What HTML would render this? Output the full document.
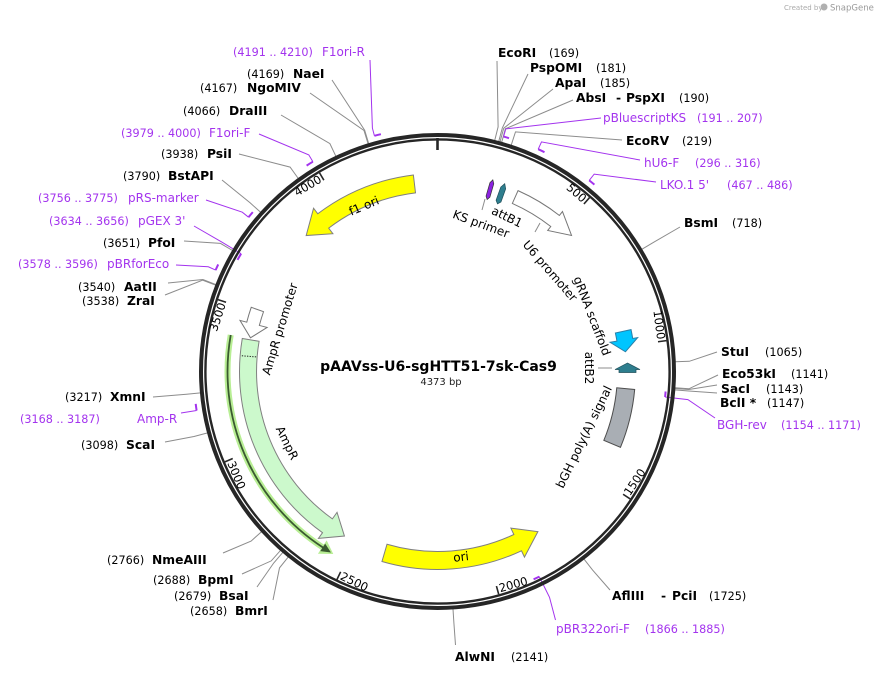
<!DOCTYPE html>
<html><head><meta charset="utf-8">
<style>
html,body{margin:0;padding:0;background:#fff;}
svg{display:block;font-family:"DejaVu Sans","Liberation Sans",sans-serif;}
.n{font-weight:bold;font-size:12.3px;fill:#000}
.p{font-size:11.2px;fill:#000}
.pn{font-size:12px;fill:#a333ee}
.pp{font-size:11.2px;fill:#a333ee}
.cl{fill:none;stroke:#8c8c8c;stroke-width:1}
.pl{fill:none;stroke:#a333ee;stroke-width:1}
.pa{fill:none;stroke:#a333ee;stroke-width:2}
.fl{font-size:12px;fill:#000}
.tk{font-size:11.5px;fill:#000}
</style></head><body>
<svg width="881" height="674" viewBox="0 0 881 674" xmlns="http://www.w3.org/2000/svg">
<rect width="881" height="674" fill="#fff"/>

<!-- header -->
<text x="784" y="10" font-size="7" fill="#aaa">Created by</text>
<circle cx="824" cy="7" r="3.5" fill="#b0b0b0"/>
<text x="830" y="10.5" font-size="8.5" fill="#999">SnapGene</text>

<!-- enzyme connector lines -->
<polyline class="cl" points="497,61 498.1,126.9 494.7,140.5"/>
<polyline class="cl" points="528,74 502.3,128 498.7,141.5"/>
<polyline class="cl" points="553,89 503.7,128.3 500,141.9"/>
<polyline class="cl" points="573,100 505.4,128.8 501.7,142.3"/>
<polyline class="cl" points="622,140 515.5,131.9 511.2,145.2"/>
<polyline class="cl" points="680,227 653.8,242.2 641.8,249.3"/>
<polyline class="cl" points="717,352 689.3,361.3 675.3,361.8"/>
<polyline class="cl" points="718,375 688.9,388.8 674.9,387.8"/>
<polyline class="cl" points="717,385 688.8,389.5 674.9,388.5"/>
<polyline class="cl" points="717,393 688.7,391 674.8,389.9"/>
<polyline class="cl" points="610,590 592.6,570.1 584,559.1"/>
<polyline class="cl" points="455.5,645 453.9,623 453,609"/>
<polyline class="cl" points="273,600 279.5,567.9 288.3,556.9"/>
<polyline class="cl" points="257,587 273.7,563 282.8,552.4"/>
<polyline class="cl" points="242,574 271.2,560.9 280.5,550.4"/>
<polyline class="cl" points="223,553 251.1,541.1 261.5,531.7"/>
<polyline class="cl" points="165,442 194,436.5 207.6,432.9"/>
<polyline class="cl" points="153,397 186.5,394.2 200.5,392.9"/>
<polyline class="cl" points="165,295 202.6,280.1 215.7,285.2"/>
<polyline class="cl" points="168,283 202.9,279.5 215.9,284.6"/>
<polyline class="cl" points="184,241 220.5,243.4 232.5,250.5"/>
<polyline class="cl" points="222,180 250.2,202.9 260.6,212.3"/>
<polyline class="cl" points="239,154 290.1,167.1 298.3,178.5"/>
<polyline class="cl" points="281,115 329.9,143.6 335.9,156.3"/>
<polyline class="cl" points="310,93 364,130.5 368.1,143.9"/>
<polyline class="cl" points="332,80 364.7,130.3 368.7,143.7"/>

<!-- primer connectors and marks -->
<polyline class="pl" points="370,60 372.4,128.1 374.4,135.8"/>
<path class="pa" d="M374.4,135.8 A244,244 0 0 1 380.9,134.2"/>
<polyline class="pl" points="259,134 308.8,154.9 312.9,161.7"/>
<path class="pa" d="M312.9,161.7 A244,244 0 0 0 306.6,165.6"/>
<polyline class="pl" points="206,200 242.3,212.2 248.5,217.2"/>
<path class="pa" d="M248.5,217.2 A244,244 0 0 1 252.8,212.1"/>
<polyline class="pl" points="194,226 221.4,241.8 241.1,253.7"/>
<path class="pa" d="M241.1,253.7 A229,229 0 0 0 237.5,259.9"/>
<polyline class="pl" points="176,265 208.3,266.8 215.6,270.1"/>
<path class="pa" d="M215.6,270.1 A244,244 0 0 1 218.2,264.4"/>
<polyline class="pl" points="181,413 188.8,411.8 196.6,410.5"/>
<path class="pa" d="M196.6,410.5 A244,244 0 0 1 195.7,403.9"/>
<polyline class="pl" points="555.5,620 549.5,597.3 539.3,576.6"/>
<path class="pa" d="M539.3,576.6 A229,229 0 0 1 533.6,579.3"/>
<polyline class="pl" points="715,418 687.9,399.6 665.1,397"/>
<path class="pa" d="M665.1,397 A229,229 0 0 0 665.6,391.5"/>
<polyline class="pl" points="601,118 505.8,128.9 503.6,136.6"/>
<path class="pa" d="M503.6,136.6 A244,244 0 0 1 509,138.2"/>
<polyline class="pl" points="640,160 541.5,141.9 538.2,149.2"/>
<path class="pa" d="M538.2,149.2 A244,244 0 0 1 544.5,152.2"/>
<polyline class="pl" points="656,182 594.2,174.1 589.2,180.4"/>
<path class="pa" d="M589.2,180.4 A244,244 0 0 1 594.4,184.6"/>

<!-- backbone ring -->
<circle cx="437.5" cy="371.5" r="236.5" fill="none" stroke="#262626" stroke-width="4"/>
<circle cx="437.5" cy="371.5" r="232.1" fill="none" stroke="#262626" stroke-width="2.4"/>

<!-- ticks -->
<g transform="translate(437.5 371.5)" stroke="#262626">
  <line x1="0" y1="-233.5" x2="0" y2="-221.5" stroke-width="2.6"/>
  <g transform="rotate(41.16)"><line x1="0" y1="-231" x2="0" y2="-222.5" stroke-width="1.6"/><text class="tk" stroke="none" x="-2" y="-222" text-anchor="end">500</text></g>
  <g transform="rotate(82.32)"><line x1="0" y1="-231" x2="0" y2="-222.5" stroke-width="1.6"/><text class="tk" stroke="none" x="-2" y="-222" text-anchor="end">1000</text></g>
  <g transform="rotate(288.13)"><line x1="0" y1="-231" x2="0" y2="-222.5" stroke-width="1.6"/><text class="tk" stroke="none" x="-2" y="-222" text-anchor="end">3500</text></g>
  <g transform="rotate(329.29)"><line x1="0" y1="-231" x2="0" y2="-222.5" stroke-width="1.6"/><text class="tk" stroke="none" x="-2" y="-222" text-anchor="end">4000</text></g>
  <g transform="rotate(123.48)"><line x1="0" y1="-231" x2="0" y2="-222.5" stroke-width="1.6"/><text class="tk" stroke="none" transform="translate(0 -229.5) rotate(180)" x="2" y="0" text-anchor="start">1500</text></g>
  <g transform="rotate(164.64)"><line x1="0" y1="-231" x2="0" y2="-222.5" stroke-width="1.6"/><text class="tk" stroke="none" transform="translate(0 -229.5) rotate(180)" x="2" y="0" text-anchor="start">2000</text></g>
  <g transform="rotate(205.8)"><line x1="0" y1="-231" x2="0" y2="-222.5" stroke-width="1.6"/><text class="tk" stroke="none" transform="translate(0 -229.5) rotate(180)" x="2" y="0" text-anchor="start">2500</text></g>
  <g transform="rotate(246.97)"><line x1="0" y1="-231" x2="0" y2="-222.5" stroke-width="1.6"/><text class="tk" stroke="none" transform="translate(0 -229.5) rotate(180)" x="2" y="0" text-anchor="start">3000</text></g>
</g>

<!-- features -->
<g transform="translate(437.5 371.5) rotate(322.8)"><path d="M0,-198 A198,198 0 0 1 99.6,-171.1 L90.5,-155.6 A180,180 0 0 0 0,-180 L0,-173 L-22.4,-187.7 L0,-205 Z" fill="#ffff00" stroke="#7f7f7f" stroke-width="1"/></g>
<g transform="translate(437.5 371.5) rotate(154.9)"><path d="M0,-198 A198,198 0 0 1 130.9,-148.5 L119,-135 A180,180 0 0 0 0,-180 L0,-173 L-23,-187.6 L0,-205 Z" fill="#ffff00" stroke="#7f7f7f" stroke-width="1"/></g>
<g transform="translate(437.5 371.5) rotate(215.5)"><path d="M0,-198 A198,198 0 0 1 178.1,-86.5 L162.8,-79 A181,181 0 0 0 0,-181 L0,-173 L-19.8,-188 L0,-205 Z" fill="#ccf9cc" stroke="#808080" stroke-width="1"/></g>
<g transform="translate(437.5 371.5) rotate(274.6)"><line x1="0" y1="-182" x2="0" y2="-197" stroke="#222" stroke-width="1" stroke-dasharray="1.3,1.3"/></g>
<!-- AmpR ORF line -->
<g transform="translate(437.5 371.5) rotate(213)">
  <path d="M193.3,-82 A210,210 0 0 0 0,-210" fill="none" stroke="#b8ee94" stroke-width="6"/>
  <polygon points="1,-202 1,-218 -12,-209.8" fill="#b8ee94"/>
  <path d="M193.3,-82 A210,210 0 0 0 0,-210" fill="none" stroke="#3a5a30" stroke-width="1.8"/>
  <polygon points="0.5,-205.5 0.5,-214.5 -9.2,-209.8" fill="#3a5a30"/>
</g>
<g transform="translate(437.5 371.5) rotate(284.5)"><path d="M0,-197 A197,197 0 0 1 15.5,-196.4 L14.4,-183.4 A184,184 0 0 0 0,-184 L0,-176 L-14.2,-189.5 L0,-204 Z" fill="#fff" stroke="#777" stroke-width="1"/></g>
<g transform="translate(437.5 371.5) rotate(38)"><path d="M0,-198 A198,198 0 0 0 -47.9,-192.1 L-44.5,-178.5 A184,184 0 0 1 0,-184 L0,-179 L21.9,-189.7 L0,-203 Z" fill="#fff" stroke="#777" stroke-width="1"/></g>
<g transform="translate(437.5 371.5) rotate(80.4)"><path d="M0,-198 A198,198 0 0 0 -9,-197.8 L-8.3,-181.8 A182,182 0 0 1 0,-182 L0,-175 L11.9,-188.6 L0,-203 Z" fill="#00c5ff" stroke="#2a7fa8" stroke-width="1"/></g>
<g transform="translate(437.5 371.5) rotate(95.2)"><path d="M0,-198 A198,198 0 0 1 58.9,-189.1 L53.5,-171.9 A180,180 0 0 0 0,-180 Z" fill="#a9aeb4" stroke="#4d4d4d" stroke-width="1"/></g>
<g transform="translate(437.5 371.5) rotate(16.1)"><polygon points="-2,-182 -2,-196 0,-199.5 2,-196 2,-182 0,-179" fill="#8b22e0" stroke="#333" stroke-width="0.7"/></g>
<g transform="translate(437.5 371.5) rotate(19.7)"><polygon points="-2.6,-181 -2.6,-195 0,-199.5 2.6,-195 2.6,-181 0,-178" fill="#2e7e8e" stroke="#1f4f5a" stroke-width="0.7"/></g>
<polygon points="615,369.5 627.5,363 640,369.5 636,369.5 636,372.5 619,372.5 619,369.5" fill="#2e7e8e" stroke="#1f4f5a" stroke-width="0.7"/>

<!-- feature label connector lines -->
<line x1="540" y1="223" x2="535" y2="232" class="cl"/>
<line x1="485" y1="199" x2="482" y2="210" class="cl"/>
<line x1="598" y1="368" x2="612" y2="368" class="cl"/>

<!-- feature labels -->
<text class="fl" transform="translate(364 206) rotate(-23)" text-anchor="middle" dominant-baseline="central">f1 ori</text>
<text class="fl" transform="translate(461 557) rotate(-7)" text-anchor="middle" dominant-baseline="central">ori</text>
<text class="fl" transform="translate(287 443) rotate(64)" text-anchor="middle" dominant-baseline="central">AmpR</text>
<text class="fl" transform="translate(280 329) rotate(-73)" text-anchor="middle" dominant-baseline="central">AmpR promoter</text>
<text class="fl" transform="translate(550 271) rotate(49)" text-anchor="middle" dominant-baseline="central">U6 promoter</text>
<text class="fl" transform="translate(592 316) rotate(69)" text-anchor="middle" dominant-baseline="central">gRNA scaffold</text>
<text class="fl" transform="translate(589 368) rotate(90)" text-anchor="middle" dominant-baseline="central">attB2</text>
<text class="fl" transform="translate(584 437) rotate(-64)" text-anchor="middle" dominant-baseline="central">bGH poly(A) signal</text>
<text class="fl" transform="translate(481 224) rotate(20)" text-anchor="middle" dominant-baseline="central">KS primer</text>
<text class="fl" transform="translate(507 217) rotate(26)" text-anchor="middle" dominant-baseline="central">attB1</text>

<!-- title -->
<text x="438.5" y="371" text-anchor="middle" font-weight="bold" font-size="14" fill="#000">pAAVss-U6-sgHTT51-7sk-Cas9</text>
<text x="441" y="385" text-anchor="middle" font-size="10" fill="#222">4373 bp</text>

<!-- labels top right -->
<text class="n" x="498" y="57">EcoRI</text><text class="p" x="549" y="57">(169)</text>
<text class="n" x="530" y="72">PspOMI</text><text class="p" x="596" y="72">(181)</text>
<text class="n" x="555" y="87">ApaI</text><text class="p" x="600" y="87">(185)</text>
<text class="n" x="576" y="102">AbsI</text><text class="n" x="616" y="102">-</text><text class="n" x="626" y="102">PspXI</text><text class="p" x="679" y="102">(190)</text>
<text class="pn" x="603" y="122">pBluescriptKS</text><text class="pp" x="697" y="122">(191 .. 207)</text>
<text class="n" x="626" y="145">EcoRV</text><text class="p" x="682" y="145">(219)</text>
<text class="pn" x="644" y="167">hU6-F</text><text class="pp" x="695" y="167">(296 .. 316)</text>
<text class="pn" x="660" y="189">LKO.1 5'</text><text class="pp" x="727" y="189">(467 .. 486)</text>
<text class="n" x="684" y="227">BsmI</text><text class="p" x="732" y="227">(718)</text>

<!-- right -->
<text class="n" x="721" y="356">StuI</text><text class="p" x="765" y="356">(1065)</text>
<text class="n" x="722" y="378">Eco53kI</text><text class="p" x="791" y="378">(1141)</text>
<text class="n" x="721" y="393">SacI</text><text class="p" x="766" y="393">(1143)</text>
<text class="n" x="720" y="407">BclI *</text><text class="p" x="767" y="407">(1147)</text>
<text class="pn" x="717" y="429">BGH-rev</text><text class="pp" x="781" y="429">(1154 .. 1171)</text>

<!-- bottom -->
<text class="n" x="612" y="600">AflIII</text><text class="n" x="661" y="600">-</text><text class="n" x="672" y="600">PciI</text><text class="p" x="709" y="600">(1725)</text>
<text class="pn" x="556" y="633">pBR322ori-F</text><text class="pp" x="645" y="633">(1866 .. 1885)</text>
<text class="n" x="455" y="661">AlwNI</text><text class="p" x="511" y="661">(2141)</text>

<!-- left bottom -->
<text class="p" x="107" y="564">(2766)</text><text class="n" x="152" y="564">NmeAIII</text>
<text class="p" x="153" y="584">(2688)</text><text class="n" x="198" y="584">BpmI</text>
<text class="p" x="174" y="600">(2679)</text><text class="n" x="219" y="600">BsaI</text>
<text class="p" x="190" y="615">(2658)</text><text class="n" x="235" y="615">BmrI</text>

<!-- left -->
<text class="p" x="81" y="449">(3098)</text><text class="n" x="126" y="449">ScaI</text>
<text class="pp" x="20" y="423">(3168 .. 3187)</text><text class="pn" x="137" y="423">Amp-R</text>
<text class="p" x="65" y="401">(3217)</text><text class="n" x="110" y="401">XmnI</text>
<text class="p" x="82" y="305">(3538)</text><text class="n" x="127" y="305">ZraI</text>
<text class="p" x="78" y="291">(3540)</text><text class="n" x="124" y="291">AatII</text>
<text class="pp" x="18" y="268">(3578 .. 3596)</text><text class="pn" x="107" y="268">pBRforEco</text>
<text class="p" x="103" y="247">(3651)</text><text class="n" x="148" y="247">PfoI</text>
<text class="pp" x="49" y="225">(3634 .. 3656)</text><text class="pn" x="138" y="225">pGEX 3'</text>
<text class="pp" x="38" y="202">(3756 .. 3775)</text><text class="pn" x="128" y="202">pRS-marker</text>
<text class="p" x="123" y="180">(3790)</text><text class="n" x="168" y="180">BstAPI</text>
<text class="p" x="161" y="158">(3938)</text><text class="n" x="207" y="158">PsiI</text>
<text class="pp" x="121" y="137">(3979 .. 4000)</text><text class="pn" x="209" y="137">F1ori-F</text>
<text class="p" x="183" y="115">(4066)</text><text class="n" x="229" y="115">DraIII</text>
<text class="p" x="200" y="92">(4167)</text><text class="n" x="247" y="92">NgoMIV</text>
<text class="p" x="247" y="78">(4169)</text><text class="n" x="293" y="78">NaeI</text>
<text class="pp" x="233" y="56">(4191 .. 4210)</text><text class="pn" x="322" y="56">F1ori-R</text>
</svg>
</body></html>
